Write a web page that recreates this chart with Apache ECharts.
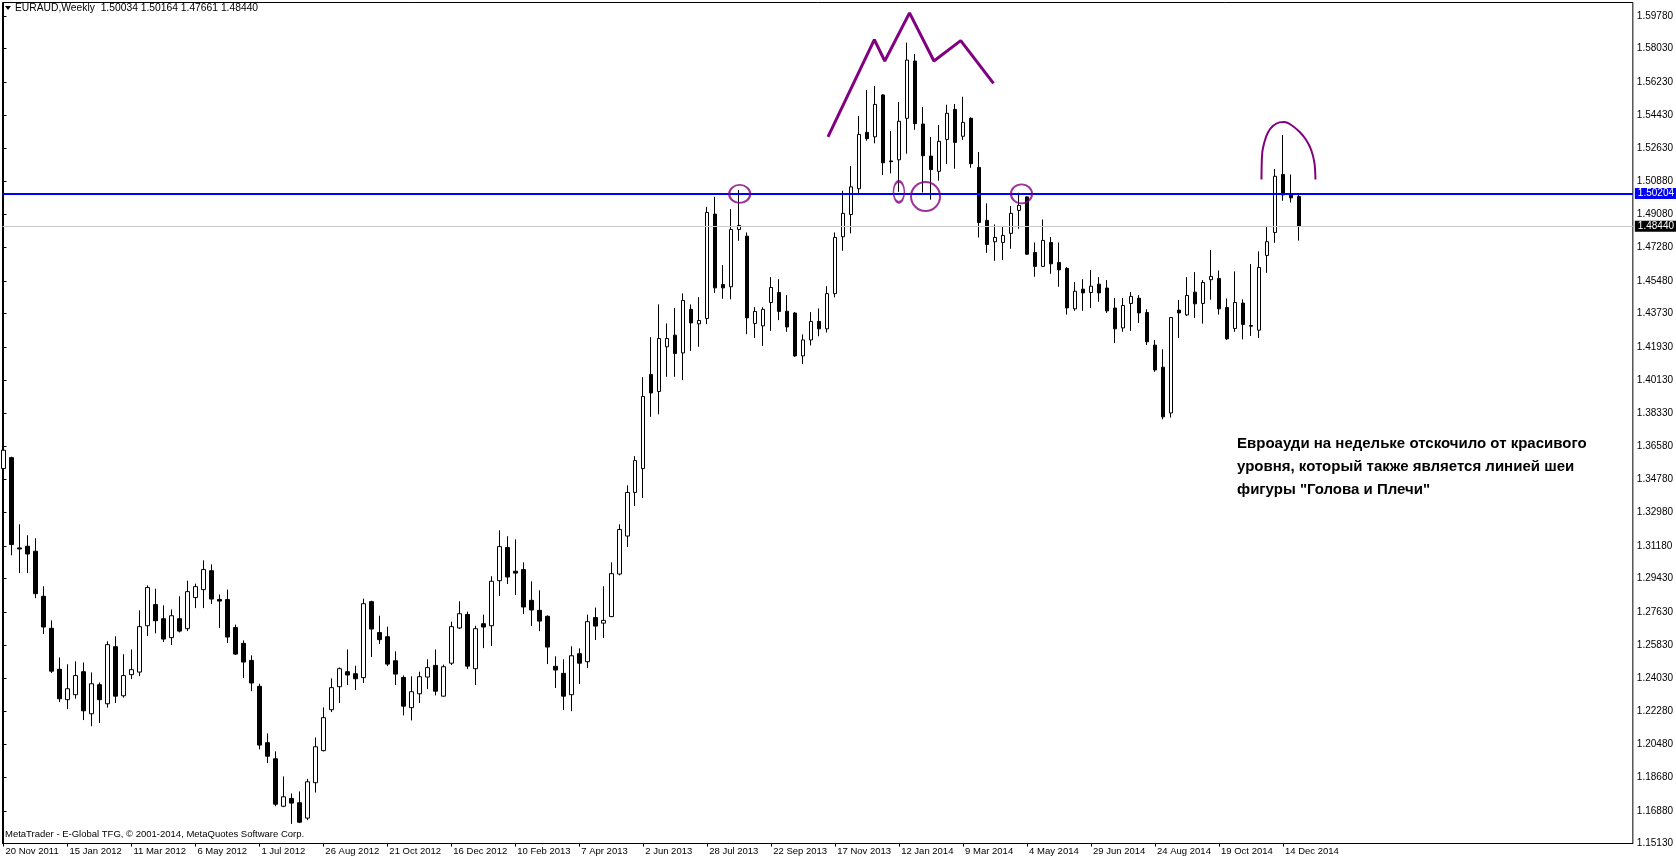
<!DOCTYPE html>
<html><head><meta charset="utf-8">
<script src="https://cdn.jsdelivr.net/npm/echarts@6/dist/echarts.min.js"></script>
<style>html,body{margin:0;padding:0;background:#fff}#c{width:1676px;height:861px}</style>
</head><body><div id="c"></div>
<script>
// ---- DATA (EURAUD weekly, first bar = week of 20 Nov 2011) ----
const firstWeek = [2011, 10, 20];
const opens = [
1.3536,1.3595,1.3108,1.3117,1.3090,1.2847,1.2674,1.2453,1.2289,1.2316,
1.2440,1.2213,1.2370,1.2267,1.2575,1.2310,1.2424,1.2438,1.2688,1.2802,
1.2726,1.2624,1.2726,1.2672,1.2840,1.2883,1.2985,1.2830,1.2829,1.2678,
1.2593,1.2501,1.2361,1.2057,1.1970,1.1714,1.1756,1.1733,1.1650,1.1841,
1.2014,1.2235,1.2359,1.2440,1.2429,1.2408,1.2818,1.2651,1.2629,1.2499,
1.2409,1.2246,1.2321,1.2411,1.2474,1.2308,1.2486,1.2676,1.2749,1.2456,
1.2699,1.2688,1.2931,1.3110,1.2982,1.2991,1.2825,1.2771,1.2739,1.2469,
1.2431,1.2316,1.2537,1.2494,1.2732,1.2702,1.2737,1.2967,1.3172,1.3407,
1.3536,1.4044,1.3952,1.4193,1.4256,1.4160,1.4395,1.4317,1.4346,1.4909,
1.4529,1.4517,1.4826,1.4790,1.4319,1.4306,1.4432,1.4486,1.4385,1.4375,
1.4144,1.4230,1.4330,1.4290,1.4480,1.4787,1.4907,1.5046,1.5350,1.5326,
1.5552,1.5196,1.5202,1.5426,1.5735,1.5395,1.5222,1.5140,1.5312,1.5474,
1.5329,1.5426,1.5161,1.4875,1.4760,1.4756,1.4805,1.4929,1.5002,1.4702,
1.4627,1.4756,1.4648,1.4616,1.4398,1.4504,1.4486,1.4531,1.4510,1.4402,
1.4295,1.4427,1.4455,1.4378,1.4202,1.4083,1.3836,1.4391,1.4365,1.4488,
1.4427,1.4555,1.4562,1.4405,1.4292,1.4429,1.4308,1.4283,1.4686,1.4810,
1.5123,1.5019,1.50034];
const highs = [
1.3818,1.3600,1.3235,1.3176,1.3160,1.2901,1.2717,1.2517,1.2480,1.2496,
1.2490,1.2436,1.2382,1.2604,1.2631,1.2534,1.2560,1.2771,1.2906,1.2888,
1.2798,1.2776,1.2847,1.2931,1.2915,1.3041,1.3019,1.2857,1.2883,1.2694,
1.2609,1.2528,1.2375,1.2107,1.2010,1.1875,1.1783,1.1794,1.1862,1.2085,
1.2247,1.2404,1.2463,1.2560,1.2472,1.2834,1.2823,1.2742,1.2683,1.2550,
1.2420,1.2415,1.2440,1.2507,1.2560,1.2478,1.2710,1.2820,1.2764,1.2688,
1.2748,1.2955,1.3203,1.3171,1.3154,1.3030,1.2928,1.2879,1.2744,1.2523,
1.2507,1.2577,1.2566,1.2748,1.2786,1.2901,1.3030,1.3235,1.3446,1.3603,
1.4029,1.4245,1.4422,1.4319,1.4402,1.4481,1.4422,1.4461,1.4948,1.5002,
1.4634,1.4936,1.5039,1.4810,1.4407,1.4407,1.4569,1.4558,1.4472,1.4381,
1.4260,1.4380,1.4400,1.4520,1.4810,1.5035,1.5168,1.5438,1.5579,1.5600,
1.5555,1.5357,1.5514,1.5834,1.5773,1.5487,1.5325,1.5390,1.5499,1.5503,
1.5542,1.5431,1.5244,1.4967,1.4853,1.4844,1.4952,1.5024,1.5004,1.4756,
1.4880,1.4785,1.4756,1.4624,1.4542,1.4558,1.4607,1.4569,1.4553,1.4456,
1.4456,1.4488,1.4472,1.4396,1.4229,1.4180,1.4351,1.4445,1.4569,1.4596,
1.4553,1.4715,1.4605,1.4454,1.4600,1.4449,1.4639,1.4708,1.4839,1.5152,
1.5336,1.5123,1.50164];
const lows = [
1.3530,1.3068,1.2972,1.2972,1.2837,1.2643,1.2433,1.2276,1.2238,1.2294,
1.2179,1.2146,1.2163,1.2246,1.2271,1.2300,1.2400,1.2416,1.2632,1.2647,
1.2600,1.2584,1.2652,1.2659,1.2783,1.2783,1.2805,1.2676,1.2595,1.2530,
1.2406,1.2335,1.2021,1.1947,1.1714,1.1709,1.1619,1.1623,1.1639,1.1788,
1.2010,1.2222,1.2271,1.2368,1.2341,1.2379,1.2519,1.2589,1.2470,1.2368,
1.2204,1.2177,1.2271,1.2346,1.2312,1.2305,1.2476,1.2670,1.2454,1.2368,
1.2567,1.2578,1.2848,1.2913,1.2854,1.2751,1.2686,1.2659,1.2481,1.2352,
1.2233,1.2227,1.2373,1.2460,1.2611,1.2622,1.2735,1.2960,1.3113,1.3334,
1.3377,1.3815,1.3829,1.4031,1.4031,1.4013,1.4171,1.4193,1.4315,1.4484,
1.4452,1.4449,1.4765,1.4261,1.4241,1.4198,1.4279,1.4337,1.4274,1.4139,
1.4100,1.4200,1.4250,1.4270,1.4460,1.4711,1.4805,1.5021,1.5305,1.5291,
1.5120,1.5129,1.5029,1.5235,1.5364,1.5026,1.4987,1.5089,1.5179,1.5154,
1.5309,1.5159,1.4783,1.4700,1.4657,1.4661,1.4722,1.4830,1.4689,1.4571,
1.4625,1.4587,1.4517,1.4367,1.4387,1.4387,1.4402,1.4436,1.4376,1.4213,
1.4274,1.4279,1.4322,1.4203,1.4058,1.3802,1.3811,1.4241,1.4360,1.4349,
1.4318,1.4447,1.4367,1.4229,1.4274,1.4233,1.4252,1.4241,1.4592,1.4754,
1.4981,1.4972,1.47661];
const closes = [
1.3635,1.3126,1.3102,1.3075,1.2861,1.2681,1.2443,1.2294,1.2348,1.2419,
1.2229,1.2375,1.2289,1.2586,1.2308,1.2419,1.2451,1.2683,1.2894,1.2715,
1.2616,1.2742,1.2659,1.2872,1.2899,1.2991,1.2832,1.2821,1.2627,1.2535,
1.2492,1.2379,1.2044,1.1984,1.1725,1.1765,1.1731,1.1628,1.1846,1.2035,
1.2192,1.2354,1.2456,1.2422,1.2402,1.2807,1.2670,1.2613,1.2481,1.2427,
1.2254,1.2332,1.2413,1.2462,1.2335,1.2467,1.2683,1.2753,1.2470,1.2672,
1.2681,1.2928,1.3115,1.2951,1.2972,1.2789,1.2773,1.2713,1.2573,1.2449,
1.2308,1.2526,1.2486,1.2710,1.2686,1.2717,1.2969,1.3207,1.3407,1.3579,
1.3925,1.3944,1.4238,1.4238,1.4157,1.4443,1.4322,1.4335,1.4918,1.4511,
1.4511,1.4826,1.4848,1.4349,1.4384,1.4395,1.4513,1.4384,1.4300,1.4144,
1.4230,1.4330,1.4290,1.4480,1.4783,1.4913,1.5056,1.5339,1.5316,1.5501,
1.5186,1.5192,1.5410,1.5740,1.5397,1.5224,1.5149,1.5302,1.5453,1.5296,
1.5404,1.5181,1.4864,1.4745,1.4783,1.4794,1.4913,1.4956,1.4693,1.4627,
1.4767,1.4641,1.4608,1.4403,1.4493,1.4484,1.4520,1.4484,1.4387,1.4290,
1.4416,1.4465,1.4376,1.4220,1.4068,1.3815,1.4351,1.4376,1.4470,1.4425,
1.4540,1.4573,1.4398,1.4236,1.4432,1.4314,1.4304,1.4621,1.4760,1.5113,
1.5013,1.4997,1.48440];
const priceTicks = [1.5978,1.5803,1.5623,1.5443,1.5263,1.5088,1.4908,1.4728,1.4548,1.4373,
  1.4193,1.4013,1.3833,1.3658,1.3478,1.3298,1.3118,1.2943,1.2763,1.2583,1.2403,1.2228,
  1.2048,1.1868,1.1688,1.1513];
const dateTickBars = [0,8,16,24,32,40,48,56,64,72,80,88,96,104,112,120,128,136,144,152,160];
const necklinePrice = 1.50204;
const bidPrice = 1.48440;
// annotations in (bar index, price)
const headShouldersPath = [[103.1,1.5326],[108.9,1.5851],[110.2,1.5735],[113.3,1.5995],[116.35,1.5735],[119.7,1.5845],[123.8,1.5614]];
const necklineTouches = [[92.06,1.5018],[111.97,1.5029],[115.3,1.5004],[127.3,1.5018]];
const arcPath = [[157.31,1.5096],[157.40,1.5237],[157.69,1.5299],[158.10,1.5348],[158.73,1.5384],[159.56,1.5404],[160.19,1.5406],[161.03,1.5390],[162.06,1.5353],[162.90,1.5309],[163.53,1.5255],[163.94,1.5183],[164.06,1.5096]];
const headerText = 'EURAUD,Weekly  1.50034 1.50164 1.47661 1.48440';
const noteLines = ['Евроауди на недельке отскочило от красивого','уровня, который также является линией шеи','фигуры "Голова и Плечи"'];
const footerText = 'MetaTrader - E-Global TFG, © 2001-2014, MetaQuotes Software Corp.';

// ---- BUILD ----
const MONTHS=['Jan','Feb','Mar','Apr','May','Jun','Jul','Aug','Sep','Oct','Nov','Dec'];
const t0 = Date.UTC(firstWeek[0], firstWeek[1], firstWeek[2]);
const dates = opens.map((_, i) => { const d = new Date(t0 + i*7*864e5); return d.getUTCDate()+' '+MONTHS[d.getUTCMonth()]+' '+d.getUTCFullYear(); });
const candleData = opens.map((o, i) => [i, o, closes[i], lows[i], highs[i]]);
const ellipseSizes = [[21,18],[11,21],[29,29],[21,19]];
const FONT = 'Liberation Sans';

const chart = echarts.init(document.getElementById('c'), null, {renderer:'canvas'});
chart.setOption({
  animation:false,
  backgroundColor:'#ffffff',
  grid:{left:2.5, top:2.5, right:42.5, bottom:17.5, show:true, borderColor:'#000', borderWidth:1, backgroundColor:'#fff'},
  xAxis:{type:'value', min:-0.125, max:203.75,
    axisLine:{show:true, lineStyle:{color:'#000', width:1}},
    axisTick:{show:true, length:3, customValues:dateTickBars, lineStyle:{color:'#000'}},
    axisLabel:{customValues:dateTickBars, formatter:v=>dates[Math.round(v)]||'', align:'left', margin:3, padding:[0,0,0,2],
      fontSize:9.5, fontFamily:FONT, color:'#000'},
    splitLine:{show:false}},
  yAxis:{type:'value', position:'right', min:1.1513, max:1.60508, scale:true,
    axisLine:{show:true, lineStyle:{color:'#000', width:1}},
    axisTick:{show:true, length:3, customValues:priceTicks, lineStyle:{color:'#000'}},
    axisLabel:{customValues:priceTicks, formatter:v=>v.toFixed(5), margin:4, fontSize:10, fontFamily:FONT, color:'#000'},
    splitLine:{show:false}},
  series:[
    {type:'candlestick', data:candleData, dimensions:['i','open','close','low','high'],
     encode:{x:'i', y:['open','close','low','high']}, barWidth:4, clip:true,
     itemStyle:{color:'#ffffff', color0:'#000000', borderColor:'#000000', borderColor0:'#000000', borderWidth:1}},
    {type:'line', data:headShouldersPath, symbol:'none', z:5, lineStyle:{color:'#800080', width:3},
     markLine:{silent:true, symbol:['none','none'], animation:false,
       data:[
        [{coord:[-0.125,bidPrice]},{coord:[203.75,bidPrice], lineStyle:{color:'#c8c8c8', width:1, type:'solid'},
          label:{show:true, position:'end', formatter:'1.48440', color:'#fff', backgroundColor:'#000', padding:[1,3,0,3], fontSize:10, fontFamily:FONT, distance:2}}],
        [{coord:[-0.125,necklinePrice]},{coord:[203.75,necklinePrice], lineStyle:{color:'#0000ff', width:2, type:'solid'},
          label:{show:true, position:'end', formatter:'1.50204', color:'#fff', backgroundColor:'#0000ff', padding:[1,3,0,3], fontSize:10, fontFamily:FONT, distance:2}}]
       ]}},
    {type:'line', data:arcPath, symbol:'none', smooth:0.3, z:5, lineStyle:{color:'#800080', width:2}},
    {type:'scatter', z:5, data:necklineTouches.map((p,k)=>({value:p, symbolSize:ellipseSizes[k]})), symbol:'circle',
     itemStyle:{color:'rgba(0,0,0,0)', borderColor:'#800080', borderWidth:2}}
  ],
  graphic:[
    {type:'polygon', shape:{points:[[5,6],[11,6],[8,10]]}, style:{fill:'#000'}},
    {type:'text', left:15, top:3, style:{text:headerText, font:'10.3px '+FONT, fill:'#000'}},
    {type:'text', left:5, top:829, style:{text:footerText, font:'9.5px '+FONT, fill:'#000'}},
    {type:'text', left:1237, top:433, style:{text:noteLines.join('\n'), font:'bold 15px '+FONT, lineHeight:22.7, fill:'#000'}}
  ]
});
</script></body></html>
